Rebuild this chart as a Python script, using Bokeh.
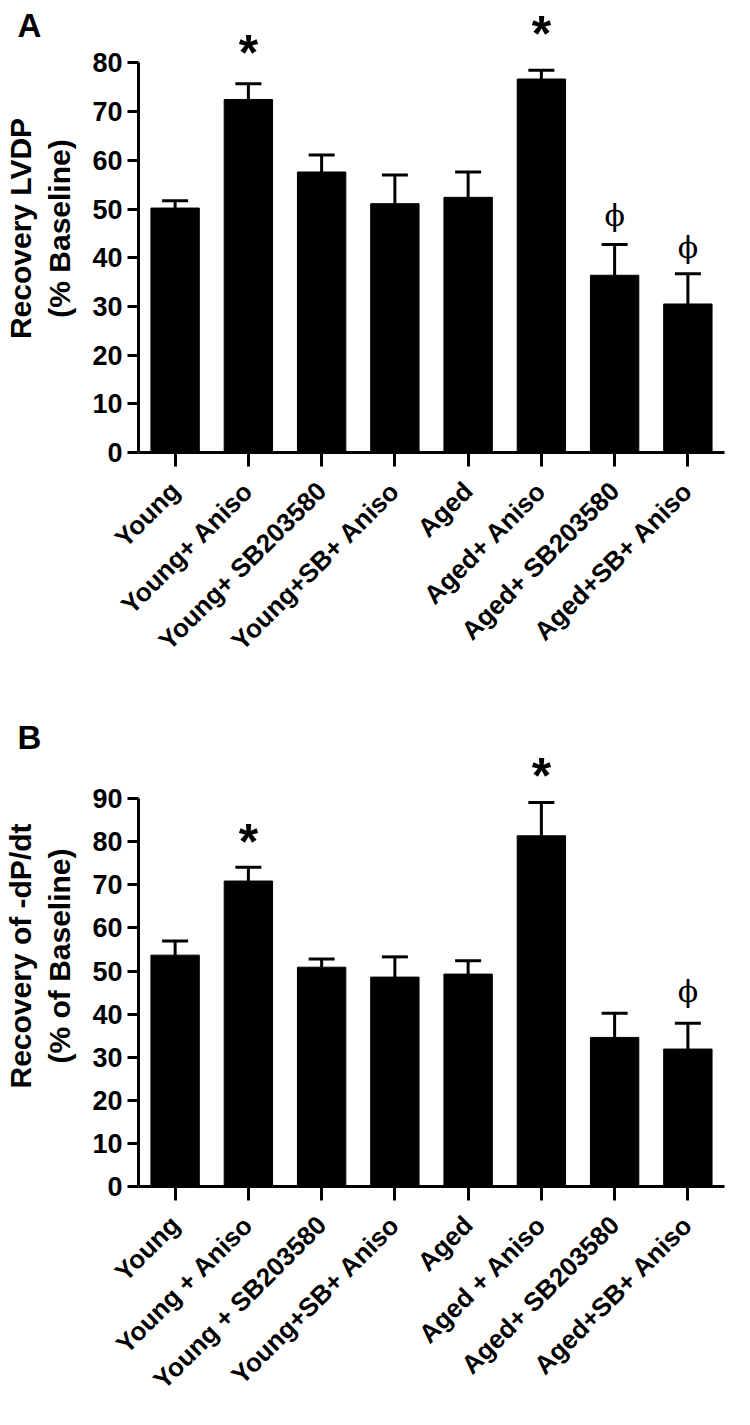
import math
from bokeh.plotting import figure
from bokeh.models import ColumnDataSource, FactorRange, Range1d, FixedTicker, Whisker, TeeHead
from bokeh.layouts import column
from bokeh.embed import file_html
from bokeh.resources import INLINE
from bokeh.core.properties import value

# ---------------- Panel A data ----------------
cats_a = ["Young", "Young+ Aniso", "Young+ SB203580", "Young+SB+ Aniso",
          "Aged", "Aged+ Aniso", "Aged+ SB203580", "Aged+SB+ Aniso"]
lvdp_mean = [50.2, 72.5, 57.6, 51.1, 52.4, 76.7, 36.4, 30.5]
lvdp_upper = [51.7, 75.7, 61.1, 57.0, 57.6, 78.5, 42.7, 36.7]
ticks_a = [0, 10, 20, 30, 40, 50, 60, 70, 80]
star_cats_a = ["Young+ Aniso", "Aged+ Aniso"]
star_y_a = [84.6, 88.4]
phi_cats_a = ["Aged+ SB203580", "Aged+SB+ Aniso"]
phi_y_a = [48.7, 42.2]

# ---------------- Panel B data ----------------
cats_b = ["Young", "Young + Aniso", "Young + SB203580", "Young+SB+ Aniso",
          "Aged", "Aged + Aniso", "Aged+ SB203580", "Aged+SB+ Aniso"]
dpdt_mean = [53.7, 70.9, 50.9, 48.6, 49.3, 81.4, 34.6, 31.9]
dpdt_upper = [57.0, 74.1, 52.8, 53.3, 52.4, 89.1, 40.2, 37.9]
ticks_b = [0, 10, 20, 30, 40, 50, 60, 70, 80, 90]
star_cats_b = ["Young + Aniso", "Aged + Aniso"]
star_y_b = [82.7, 98.0]
phi_cats_b = ["Aged+SB+ Aniso"]
phi_y_b = [45.3]

SANS = "Liberation Sans"
PHI = "\u03d5"


def make_panel(cats, means, uppers, ticks, yend, frame_h, ylabel, letter,
               letter_bottom, star_cats, star_y, phi_cats, phi_y, b_top, b_bottom):
    p = figure(x_range=FactorRange(*cats, range_padding=0),
               y_range=Range1d(0, yend),
               frame_width=586, frame_height=frame_h,
               min_border_left=135, min_border_right=13,
               min_border_top=b_top, min_border_bottom=b_bottom,
               output_backend="svg", toolbar_location=None,
               background_fill_color="white", border_fill_color="white")
    p.outline_line_color = None
    p.xgrid.visible = False
    p.ygrid.visible = False

    src = ColumnDataSource(dict(cat=cats, mean=means, upper=uppers))
    p.vbar(x="cat", top="mean", width=0.66, source=src,
           fill_color="black", line_color="black")
    wh = Whisker(source=src, base="cat", lower="mean", upper="upper",
                 dimension="height", line_width=3, line_color="black",
                 upper_head=TeeHead(size=26, line_width=3, line_color="black"),
                 lower_head=None)
    p.add_layout(wh)

    ssrc = ColumnDataSource(dict(cat=star_cats, y=star_y, t=["*"] * len(star_cats)))
    p.text(x="cat", y="y", text="t", source=ssrc, text_font=value(SANS),
           text_font_size="50px", text_font_style="bold", text_align="center",
           text_baseline="middle", y_offset=12, text_color="black")
    psrc = ColumnDataSource(dict(cat=phi_cats, y=phi_y, t=[PHI] * len(phi_cats)))
    p.text(x="cat", y="y", text="t", source=psrc, text_font=value("DejaVu Serif"),
           text_font_size="30px", text_align="center",
           text_baseline="middle", text_color="black")

    # axes
    for ax in (p.xaxis, p.yaxis):
        ax.axis_line_width = 3
        ax.axis_line_color = "black"
        ax.major_tick_line_width = 3
        ax.major_tick_line_color = "black"
        ax.major_tick_in = 0
        ax.minor_tick_line_color = None
        ax.major_label_text_font = SANS
        ax.major_label_text_font_style = "bold"
        ax.major_label_text_color = "black"
    p.yaxis.ticker = FixedTicker(ticks=ticks)
    p.yaxis.bounds = (ticks[0], ticks[-1])
    p.yaxis.major_tick_out = 11
    p.yaxis.major_label_standoff = 5
    p.yaxis.major_label_text_font_size = "27px"
    p.yaxis.axis_label = ylabel
    p.yaxis.axis_label_text_font = SANS
    p.yaxis.axis_label_text_font_size = "30px"
    p.yaxis.axis_label_text_font_style = "bold"
    p.yaxis.axis_label_text_color = "black"
    p.yaxis.axis_label_standoff = 13

    p.xaxis.major_tick_out = 14
    p.xaxis.major_label_standoff = 20
    p.xaxis.major_label_orientation = math.pi / 4
    p.xaxis.major_label_text_font_size = "26px"

    # panel letter as the plot title, pulled down beside the frame top
    p.title.text = letter
    p.title.text_font = SANS
    p.title.text_font_size = "33px"
    p.title.text_font_style = "bold"
    p.title.text_color = "black"
    p.title.align = "left"
    p.title.vertical_align = "bottom"
    p.title.offset = -121
    p.title.standoff = -2 * (letter_bottom - b_top)
    return p


pa = make_panel(cats_a, lvdp_mean, lvdp_upper, ticks_a, 92, 448,
                "Recovery LVDP\n(% Baseline)", "A", 43,
                star_cats_a, star_y_a, phi_cats_a, phi_y_a, 4, 222)
pb = make_panel(cats_b, dpdt_mean, dpdt_upper, ticks_b, 107, 461,
                "Recovery of -dP/dt\n(% of Baseline)", "B", 81,
                star_cats_b, star_y_b, phi_cats_b, phi_y_b, 51, 220)

layout = column(pa, pb, spacing=0)
open("out.html", "w").write(file_html(layout, INLINE))
